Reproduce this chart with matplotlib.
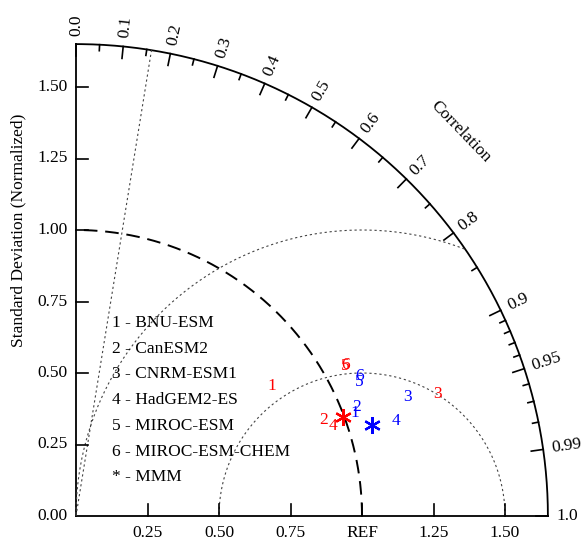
import numpy as np
import matplotlib
matplotlib.use("Agg")
import matplotlib.pyplot as plt

plt.rcParams['font.family'] = ['Liberation Serif', 'DejaVu Serif']

# data: normalized standard deviation and correlation for each model
models = ['BNU-ESM', 'CanESM2', 'CNRM-ESM1', 'HadGEM2-ES', 'MIROC-ESM', 'MIROC-ESM-CHEM']
red_std = [0.822, 0.930, 1.333, 0.953, 1.077, 1.079]
red_corr = [0.833, 0.932, 0.947, 0.944, 0.873, 0.872]
blue_std = [1.040, 1.054, 1.233, 1.166, 1.095, 1.105]
blue_corr = [0.938, 0.932, 0.941, 0.959, 0.904, 0.896]
red_mmm = (0.996, 0.938)   # (std, corr)
blue_mmm = (1.083, 0.956)

std_max = 1.65
std_ticks = [0.25, 0.50, 0.75, 1.00, 1.25, 1.50]
std_labels = ['0.25', '0.50', '0.75', 'REF', '1.25', '1.50']
corr_major = [0.0, 0.1, 0.2, 0.3, 0.4, 0.5, 0.6, 0.7, 0.8, 0.9, 0.95, 0.99, 1.0]
corr_minor = [0.05, 0.15, 0.25, 0.35, 0.45, 0.55, 0.65, 0.75, 0.85,
              0.91, 0.92, 0.93, 0.94, 0.96, 0.97, 0.98]
rms_circles = [0.5, 1.0]
sig_corr = 0.16

fig = plt.figure(figsize=(5.81, 5.39), dpi=100)
ax = fig.add_axes([0, 0, 1, 1])
ax.set_xlim(-76 / 286, 505 / 286)
ax.set_ylim(-23 / 286, 516 / 286)
ax.axis('off')

fs = 12.5

# frame: axes lines and outer arc
t = np.linspace(0, np.pi / 2, 400)
ax.plot(std_max * np.cos(t), std_max * np.sin(t), color='black', lw=1.3)
ax.plot([0, 0], [0, std_max], color='black', lw=1.3)
ax.plot([0, std_max], [0, 0], color='black', lw=1.3)

# reference std arc
ax.plot(np.cos(t), np.sin(t), color='black', lw=1.4, dashes=(7, 4))

# centered RMS circles around REF
for r in rms_circles:
    tt = np.linspace(0, np.pi, 400)
    xs = 1.0 + r * np.cos(tt)
    ys = r * np.sin(tt)
    keep = (xs >= 0) & (np.hypot(xs, ys) <= std_max)
    ax.plot(xs[keep], ys[keep], color='#444444', lw=0.8, dashes=(2, 2.5))

# significance line
a = np.arccos(sig_corr)
ax.plot([0, std_max * np.cos(a)], [0, std_max * np.sin(a)], color='#444444', lw=0.8, dashes=(2, 2.5))

# correlation ticks
maj_len = 12 / 286
min_len = 6 / 286
for c in corr_major:
    a = np.arccos(c)
    ax.plot([std_max * np.cos(a), (std_max - maj_len) * np.cos(a)],
            [std_max * np.sin(a), (std_max - maj_len) * np.sin(a)], color='black', lw=1.2)
    rl = std_max + 0.03
    lab = '%g' % c if c not in (0.0, 1.0) else '%.1f' % c
    ax.text(rl * np.cos(a), rl * np.sin(a), lab, rotation=np.degrees(a),
            rotation_mode='anchor', ha='left', va='center', fontsize=fs)
for c in corr_minor:
    a = np.arccos(c)
    ax.plot([std_max * np.cos(a), (std_max - min_len) * np.cos(a)],
            [std_max * np.sin(a), (std_max - min_len) * np.sin(a)], color='black', lw=1.2)

ax.text(1.90 * np.cos(np.radians(45)), 1.90 * np.sin(np.radians(45)), 'Correlation',
        rotation=-46, rotation_mode='anchor', ha='center', va='center', fontsize=fs)

# std ticks on both axes
for s, lab in zip(std_ticks, std_labels):
    ax.plot([s, s], [0, maj_len], color='black', lw=1.2)
    ax.text(s, -0.032, lab, ha='center', va='top', fontsize=fs)
    ax.plot([0, maj_len], [s, s], color='black', lw=1.2)
    ax.text(-0.03, s, '%.2f' % s, ha='right', va='center', fontsize=fs)
ax.text(-0.03, 0, '0.00', ha='right', va='center', fontsize=fs)
ax.text(-0.203, 1.0, 'Standard Deviation (Normalized)', rotation=90,
        ha='center', va='center', fontsize=fs)

# model points as numbers
for stds, corrs, col in [(red_std, red_corr, 'red'), (blue_std, blue_corr, 'blue')]:
    for i, (s, c) in enumerate(zip(stds, corrs)):
        a = np.arccos(c)
        ax.text(s * np.cos(a), s * np.sin(a), str(i + 1), color=col,
                ha='center', va='center', fontsize=fs)

for (s, c), col in [(red_mmm, 'red'), (blue_mmm, 'blue')]:
    a = np.arccos(c)
    ax.plot(s * np.cos(a), s * np.sin(a), marker=(6, 2, 0), color=col, ms=12, mew=1.6)

# legend text
y0 = (516 - 323) / 286
dy = 25.7 / 286
for i, m in enumerate(models + ['MMM']):
    key = str(i + 1) if i < len(models) else '*'
    ax.text(36 / 286, y0 - i * dy, key + ' - ' + m, ha='left', va='center', fontsize=fs)

fig.savefig('out.png', dpi=100)
